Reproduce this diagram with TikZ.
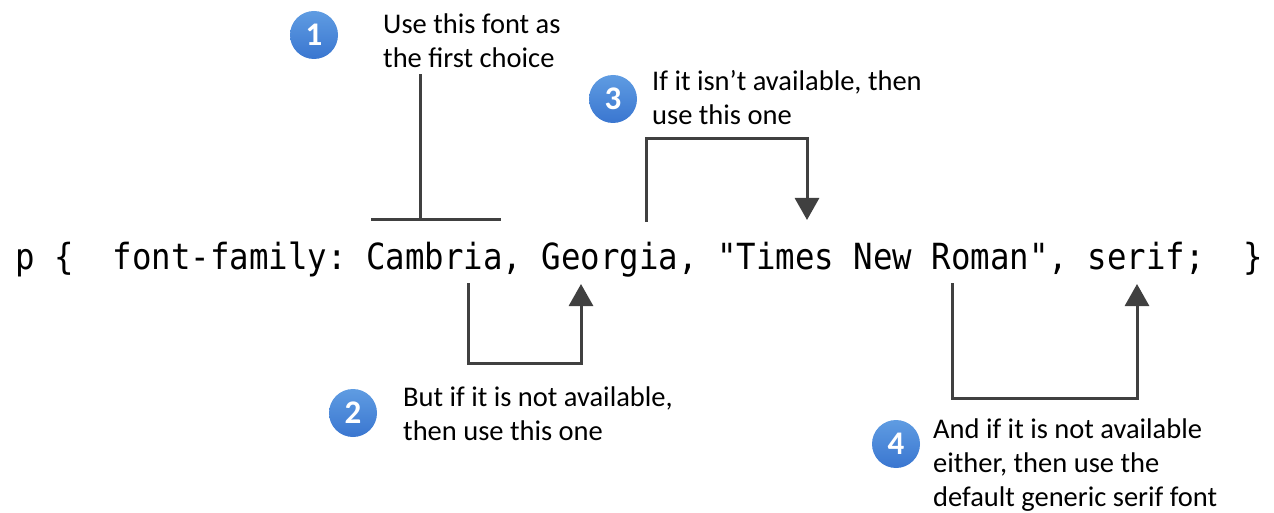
\documentclass[tikz,border=0pt]{standalone}
\usepackage{fontspec}
\setmainfont{Carlito}
\newfontfamily\codefont[FakeStretch=0.9]{DejaVu Sans Mono}
\usetikzlibrary{arrows.meta, positioning, calc}
\definecolor{linegray}{HTML}{404040}
\definecolor{badgetop}{HTML}{5F9CE2}
\definecolor{badgebot}{HTML}{3A76D0}

\begin{document}
\begin{tikzpicture}[
        x=1pt, y=-1pt,
        >={Triangle[length=22pt, width=24pt]},
        badge/.style={circle, minimum size=48pt, inner sep=0pt, top color=badgetop, bottom color=badgebot, text=white, font=\fontsize{33}{33}\selectfont\bfseries},
        note/.style={align=left, inner sep=0pt, anchor=base west, font=\fontsize{28.5}{34}\selectfont},
        cssline/.style={anchor=base west, inner sep=0pt, font=\codefont\fontsize{36}{36}\selectfont},
        conn/.style={draw=linegray, line width=3pt}
    ]
        \useasboundingbox (0,0) rectangle (1274,513);

        % --- CSS-Zeile ---
        \node[cssline] (css) at (15,269) {p~\{~~font-family:~Cambria,~Georgia,~"Times~New~Roman",~serif;~~\}};

        % --- Schritte (base = letzte Zeile) ---
        \node[badge] (b1) at (314,35) {1};
        \node[note] (n1) at (383,68) {Use this font as\\the first choice};
        \node[badge] (b3) at (613,99) {3};
        \node[note] (n3) at (652,125) {If it isn't available, then\\use this one};
        \node[badge] (b2) at (353,413) {2};
        \node[note] (n2) at (403,440) {But if it is not available,\\then use this one};
        \node[badge] (b4) at (896,444) {4};
        \node[note] (n4) at (933,506) {And if it is not available\\either, then use the\\default generic serif font};

        % Ankerpunkte an der Zeile
        \coordinate (cambria) at (420,220);
        \coordinate (cambria-l) at (371,220);
        \coordinate (cambria-r) at (501,220);
        \coordinate (cambria-dn) at (468,283);
        \coordinate (georgia-up) at (581,284);
        \coordinate (georgia-top) at (646,222);
        \coordinate (times) at (807,220);
        \coordinate (roman-dn) at (952,283);
        \coordinate (serif) at (1137,284);

        % --- Verbinder ---
        \draw[conn, shorten <=6pt] (cambria |- n1.south) -- (cambria);
        \draw[conn] (cambria-l) -- (cambria-r);
        \draw[conn, ->] (cambria-dn) -- ++(0,80) -| (georgia-up);
        \draw[conn, ->] (georgia-top) -- ++(0,-83) -| (times);
        \draw[conn, ->] (roman-dn) -- ++(0,115) -| (serif);
    \end{tikzpicture}
\end{document}
